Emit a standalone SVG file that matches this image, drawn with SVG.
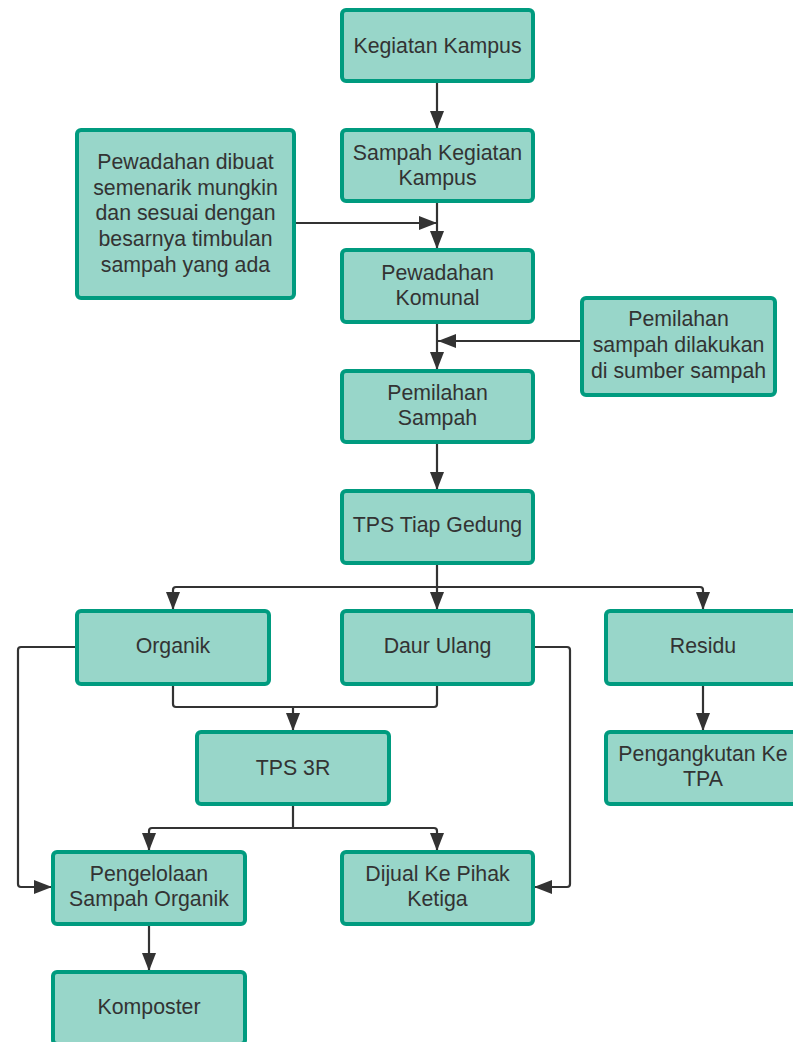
<svg xmlns="http://www.w3.org/2000/svg" width="793" height="1042" viewBox="0 0 793 1042">
<style>
.box{fill:#98d6c9;stroke:#009b7f;stroke-width:4}
.t{font-family:"Liberation Sans",Arial,sans-serif;font-size:21.3px;fill:#333;text-anchor:middle}
.c{fill:none;stroke:#333;stroke-width:2.2;stroke-linejoin:round}
</style>
<defs>
<marker id="ah" viewBox="0 0 18 14" refX="18" refY="7" markerWidth="18" markerHeight="14" markerUnits="userSpaceOnUse" orient="auto">
<path d="M0,0 L18,7 L0,14 Z" fill="#333"/>
</marker>
</defs>
<rect width="793" height="1042" fill="#fff"/>
<g id="connectors">
<path class="c" d="M437,81 V129" marker-end="url(#ah)"/>
<path class="c" d="M437,201 V249" marker-end="url(#ah)"/>
<path class="c" d="M294,223 H437" marker-end="url(#ah)"/>
<path class="c" d="M437,322 V370" marker-end="url(#ah)"/>
<path class="c" d="M582,341 H438" marker-end="url(#ah)"/>
<path class="c" d="M437,442 V490" marker-end="url(#ah)"/>
<path class="c" d="M437,563 V587 H176 Q173,587 173,590 V610" marker-end="url(#ah)"/>
<path class="c" d="M437,587 V610" marker-end="url(#ah)"/>
<path class="c" d="M437,587 H700 Q703,587 703,590 V610" marker-end="url(#ah)"/>
<path class="c" d="M173,684 V704 Q173,707 176,707 H434 Q437,707 437,704 V684"/>
<path class="c" d="M293,707 V731" marker-end="url(#ah)"/>
<path class="c" d="M77,647 H21 Q18,647 18,650 V884 Q18,887 21,887 H52" marker-end="url(#ah)"/>
<path class="c" d="M533,647 H567 Q570,647 570,650 V884 Q570,887 567,887 H534" marker-end="url(#ah)"/>
<path class="c" d="M293,804 V828 H152 Q149,828 149,831 V851" marker-end="url(#ah)"/>
<path class="c" d="M293,828 H434 Q437,828 437,831 V851" marker-end="url(#ah)"/>
<path class="c" d="M149,924 V971" marker-end="url(#ah)"/>
<path class="c" d="M703,684 V731" marker-end="url(#ah)"/>
</g>
<g id="n1"><rect class="box" x="342" y="10" width="191" height="71" rx="4"/><text class="t" x="437.5" y="52.5">Kegiatan Kampus</text></g>
<g id="n2"><rect class="box" x="342" y="130" width="191" height="71" rx="4"/><text class="t" x="437.5" y="159.5">Sampah Kegiatan</text><text class="t" x="437.5" y="184.5">Kampus</text></g>
<g id="n3"><rect class="box" x="77" y="130" width="217" height="168" rx="4"/><text class="t" x="185.5" y="168.5">Pewadahan dibuat</text><text class="t" x="185.5" y="194.5">semenarik mungkin</text><text class="t" x="185.5" y="219.5">dan sesuai dengan</text><text class="t" x="185.5" y="245.5">besarnya timbulan</text><text class="t" x="185.5" y="271.5">sampah yang ada</text></g>
<g id="n4"><rect class="box" x="342" y="250" width="191" height="72" rx="4"/><text class="t" x="437.5" y="279.5">Pewadahan</text><text class="t" x="437.5" y="304.5">Komunal</text></g>
<g id="n5"><rect class="box" x="582" y="298" width="193" height="97" rx="4"/><text class="t" x="678.5" y="325.5">Pemilahan</text><text class="t" x="678.5" y="351.5">sampah dilakukan</text><text class="t" x="678.5" y="377.5">di sumber sampah</text></g>
<g id="n6"><rect class="box" x="342" y="371" width="191" height="71" rx="4"/><text class="t" x="437.5" y="399.5">Pemilahan</text><text class="t" x="437.5" y="424.5">Sampah</text></g>
<g id="n7"><rect class="box" x="342" y="491" width="191" height="72" rx="4"/><text class="t" x="437.5" y="531.5">TPS Tiap Gedung</text></g>
<g id="n8"><rect class="box" x="77" y="611" width="192" height="73" rx="4"/><text class="t" x="173" y="652.5">Organik</text></g>
<g id="n9"><rect class="box" x="342" y="611" width="191" height="73" rx="4"/><text class="t" x="437.5" y="652.5">Daur Ulang</text></g>
<g id="n10"><rect class="box" x="606" y="611" width="194" height="73" rx="4"/><text class="t" x="703" y="652.5">Residu</text></g>
<g id="n11"><rect class="box" x="197" y="732" width="192" height="72" rx="4"/><text class="t" x="293" y="774.5">TPS 3R</text></g>
<g id="n12"><rect class="box" x="606" y="732" width="194" height="72" rx="4"/><text class="t" x="703" y="760.5">Pengangkutan Ke</text><text class="t" x="703" y="785.5">TPA</text></g>
<g id="n13"><rect class="box" x="53" y="852" width="192" height="72" rx="4"/><text class="t" x="149" y="880.5">Pengelolaan</text><text class="t" x="149" y="905.5">Sampah Organik</text></g>
<g id="n14"><rect class="box" x="342" y="852" width="191" height="72" rx="4"/><text class="t" x="437.5" y="880.5">Dijual Ke Pihak</text><text class="t" x="437.5" y="905.5">Ketiga</text></g>
<g id="n15"><rect class="box" x="53" y="972" width="192" height="72" rx="4"/><text class="t" x="149" y="1013.5">Komposter</text></g>
</svg>
